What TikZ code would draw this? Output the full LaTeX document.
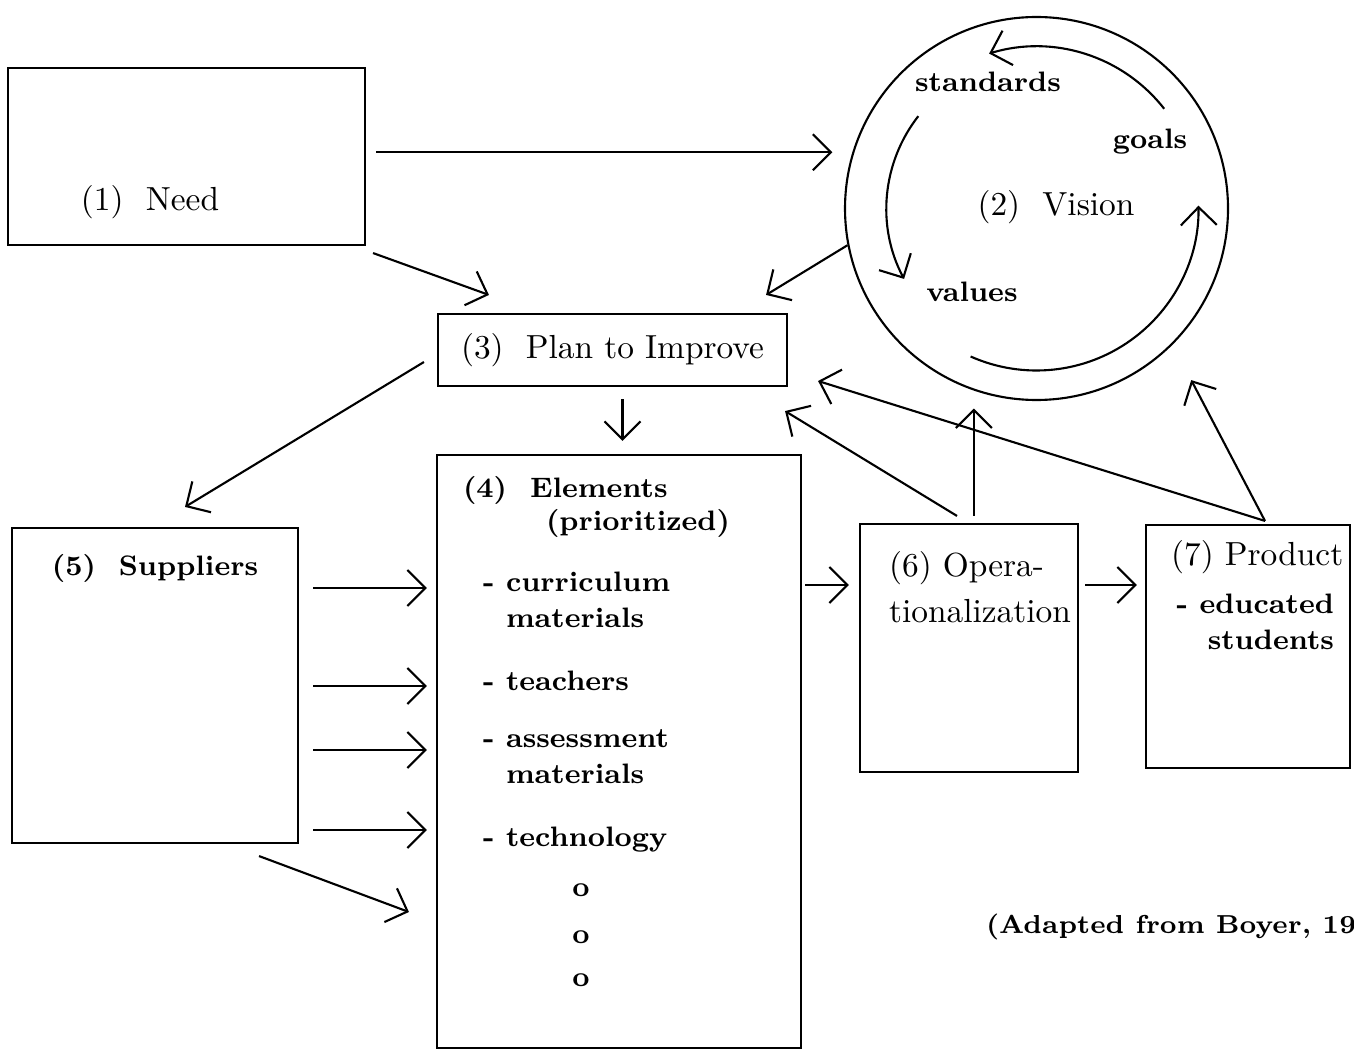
\documentclass[tikz,border=0pt]{standalone}
\usepackage{tikz}
\usetikzlibrary{arrows.meta}

\begin{document}
\begin{tikzpicture}[
	>={Straight Barb[length=1.8mm,width=3.6mm]},
	every path/.style={line width=0.6pt},
	box/.style={draw, inner sep=0pt},
	reg/.style={inner sep=0pt, font=\fontsize{9.5}{13}\selectfont},
	bld/.style={inner sep=0pt, font=\bfseries\fontsize{8}{10.2}\selectfont}]
		\useasboundingbox (0,0) rectangle (13.54,10.5);
		% the boxes and the circle
		\node[box, minimum width=3.57cm, minimum height=1.77cm] (need) at (1.865,8.935) {};
		\node[box, circle, minimum size=3.83cm] (vis) at (10.365,8.415) {};
		\node[box, reg, minimum width=3.49cm, minimum height=0.72cm] (plan) at (6.125,7.0) {(3)\ \ Plan to Improve};
		\node[box, minimum width=3.64cm, minimum height=5.93cm] (elem) at (6.19,2.985) {};
		\node[box, minimum width=2.86cm, minimum height=3.15cm] (sup) at (1.55,3.645) {};
		\node[box, minimum width=2.18cm, minimum height=2.48cm] (op) at (9.69,4.02) {};
		\node[box, minimum width=2.04cm, minimum height=2.43cm] (prod) at (12.48,4.035) {};
		% texts
		\node[reg] (needtxt) at (1.50,8.48) {(1)\ \ Need};
		\node[reg] (vistxt) at (10.56,8.43) {(2)\ \ Vision};
		\node[bld] (standards) at (9.88,9.68) {standards};
		\node[bld] (goals) at (11.50,9.08) {goals};
		\node[bld] (values) at (9.72,7.58) {values};
		\node[bld, anchor=west] (eltxt) at (4.62,5.60) {(4)\ \ Elements};
		\node[bld, anchor=west] (prio) at (5.45,5.27) {(prioritized)};
		\node[bld, anchor=west, align=left] (curr) at (4.82,4.50) {- curriculum\\\phantom{- }materials};
		\node[bld, anchor=west] (teach) at (4.82,3.69) {- teachers};
		\node[bld, anchor=west, align=left] (assess) at (4.82,2.93) {- assessment\\\phantom{- }materials};
		\node[bld, anchor=west] (tech) at (4.82,2.10) {- technology};
		\foreach \y [count=\i] in {1.60,1.13,0.70}
			\node[bld] (dot\i) at (5.81,\y) {o};
		\node[bld] (suptxt) at (1.55,4.82) {(5)\ \ Suppliers};
		\node[reg, anchor=west, align=left] (optxt) at (8.88,4.63) {(6) Opera-\\tionalization};
		\node[reg, anchor=west] (prodtxt) at (11.70,4.93) {(7) Product};
		\node[bld, anchor=east, align=right] (edu) at (13.35,4.28) {- educated\\students};
		\node[bld, anchor=west, font=\bfseries\fontsize{7.4}{9}\selectfont] (boyer) at (9.85,1.23) {(Adapted from Boyer, 19};
		% the cycle in the vision
		\draw[->] ([shift={(38:1.62)}]vis.center) arc[start angle=38, end angle=107, radius=1.62];
		\draw[->] ([shift={(142:1.5)}]vis.center) arc[start angle=142, end angle=208, radius=1.5];
		\draw[->] ([shift={(246:1.62)}]vis.center) arc[start angle=246, end angle=361, radius=1.62];
		% connectors
		\draw[->, shorten <=1mm, shorten >=2mm] (need.east |- vis.163) -- (vis.163);
		\draw[->] ([shift={(0.7mm,-0.7mm)}]need.south east) -- ([shift={(5.2mm,1.8mm)}]plan.north west);
		\draw[->] (vis.191) -- ([shift={(-2.2mm,1.8mm)}]plan.north east);
		\draw[->, shorten <=1.2mm, shorten >=1.3mm] ([xshift=1mm]plan.south) -- ([xshift=1mm]plan.south |- elem.north);
		\draw[->] ([shift={(-1.3mm,-1.2mm)}]plan.west) -- ([shift={(3mm,2mm)}]sup.north);
		\foreach \y in {4.62,3.64,3.00,2.20}
			\draw[->, shorten <=1.4mm, shorten >=0.9mm] (sup.east |- 0,\y) -- (elem.west |- 0,\y);
		\draw[->] ([shift={(-4mm,-1.2mm)}]sup.south east) -- ([xshift=-2.7mm]elem.west |- 0,1.38);
		\draw[->, shorten <=0.3mm, shorten >=1mm] (elem.east |- 0,4.65) -- (op.west |- 0,4.65);
		\draw[->, shorten <=0.6mm, shorten >=0.8mm] (op.east |- 0,4.65) -- (prod.west |- 0,4.65);
		\draw[->, shorten <=0.7mm, shorten >=1.8mm] (op.north -| vis.-109) -- (vis.-109);
		\draw[->] ([shift={(-1.2mm,0.7mm)}]op.north) -- ([shift={(-0.3mm,-2.4mm)}]plan.south east);
		\draw[->] ([shift={(1.7mm,0.3mm)}]prod.north) -- ([shift={(3mm,-3.1mm)}]plan.east);
		\draw[->, shorten >=4mm] ([shift={(1.7mm,0.3mm)}]prod.north) -- (vis.-45);
		%\draw (elem.north east) -- (op.north west);
	\end{tikzpicture}
\end{document}
